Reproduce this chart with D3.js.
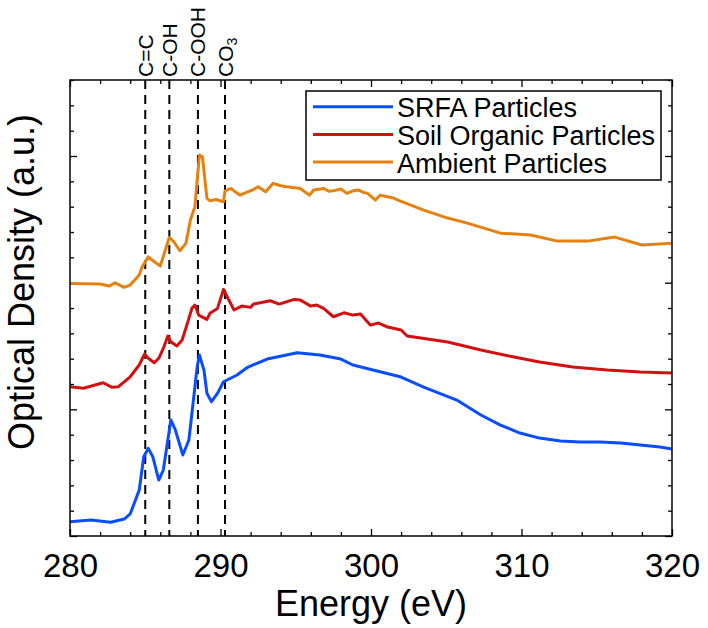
<!DOCTYPE html>
<html>
<head>
<meta charset="utf-8">
<script src="https://cdn.jsdelivr.net/npm/d3@7"></script>
<style>
  body { margin: 0; background: #fff; }
  text { font-family: "Liberation Sans", Arial, sans-serif; fill: #000; }
</style>
</head>
<body>
<script>
// energies (eV) and optical density (a.u., stacked)
const srfaE  = [280.0, 281.4, 282.7, 283.6, 284.0, 284.6, 284.9, 285.2, 285.5, 285.9, 286.2, 286.5, 286.7, 287.0, 287.5, 287.9, 288.2, 288.45, 288.6, 288.9, 289.1, 289.4, 289.8, 290.2, 291.1, 291.8, 293.1, 295.1, 296.6, 298.0, 298.8, 300.6, 302.0, 303.5, 305.7, 307.3, 308.6, 309.9, 311.2, 312.6, 313.9, 315.2, 316.6, 317.9, 319.2, 320.0];
const srfaOD = [0.113, 0.126, 0.108, 0.134, 0.174, 0.363, 0.626, 0.692, 0.626, 0.442, 0.521, 0.758, 0.916, 0.837, 0.639, 0.758, 1.073, 1.336, 1.429, 1.310, 1.126, 1.060, 1.126, 1.218, 1.271, 1.332, 1.397, 1.447, 1.429, 1.397, 1.350, 1.297, 1.255, 1.176, 1.073, 0.955, 0.876, 0.813, 0.773, 0.750, 0.742, 0.742, 0.734, 0.718, 0.702, 0.687];

const soilE  = [280.0, 280.9, 282.2, 282.8, 283.2, 284.0, 284.6, 284.95, 285.2, 285.6, 285.9, 286.2, 286.5, 286.7, 287.1, 287.45, 287.8, 288.1, 288.3, 288.55, 289.1, 289.3, 289.8, 290.2, 290.5, 290.9, 291.4, 292.0, 292.2, 293.3, 293.9, 294.9, 295.3, 296.0, 296.4, 296.85, 297.5, 298.2, 298.8, 299.3, 299.95, 300.5, 301.1, 302.0, 302.4, 305.1, 307.3, 309.5, 311.2, 313.4, 315.7, 317.9, 320.0];
const soilOD = [1.178, 1.166, 1.210, 1.174, 1.178, 1.257, 1.350, 1.436, 1.403, 1.368, 1.403, 1.481, 1.579, 1.534, 1.500, 1.547, 1.679, 1.797, 1.823, 1.744, 1.710, 1.758, 1.797, 1.947, 1.876, 1.784, 1.815, 1.805, 1.831, 1.857, 1.831, 1.868, 1.863, 1.815, 1.823, 1.797, 1.731, 1.762, 1.744, 1.752, 1.665, 1.681, 1.650, 1.626, 1.579, 1.531, 1.468, 1.413, 1.373, 1.334, 1.310, 1.294, 1.287];

const ambE  = [280.0, 282.0, 282.6, 283.0, 283.6, 284.0, 284.6, 284.8, 285.2, 285.6, 286.0, 286.3, 286.6, 286.9, 287.3, 287.7, 288.0, 288.3, 288.45, 288.6, 288.8, 289.1, 289.3, 289.7, 290.2, 290.3, 290.7, 291.0, 291.3, 291.8, 292.2, 292.5, 293.0, 293.5, 294.0, 294.4, 295.3, 295.9, 296.2, 296.85, 297.2, 297.5, 298.0, 298.4, 298.8, 299.2, 299.5, 299.75, 300.3, 300.6, 301.0, 301.5, 301.8, 303.5, 305.1, 306.4, 308.6, 310.6, 312.4, 314.4, 316.2, 318.0, 320.0];
const ambOD = [1.994, 1.989, 1.973, 1.999, 1.963, 1.981, 2.060, 2.126, 2.204, 2.165, 2.131, 2.244, 2.358, 2.323, 2.252, 2.310, 2.494, 2.599, 2.810, 3.007, 2.994, 2.665, 2.646, 2.657, 2.639, 2.725, 2.744, 2.715, 2.691, 2.717, 2.735, 2.757, 2.717, 2.784, 2.765, 2.757, 2.744, 2.691, 2.731, 2.744, 2.722, 2.725, 2.740, 2.705, 2.725, 2.731, 2.712, 2.707, 2.652, 2.691, 2.680, 2.668, 2.652, 2.573, 2.510, 2.470, 2.391, 2.376, 2.328, 2.328, 2.360, 2.297, 2.312];

const seriesNames = ['SRFA Particles', 'Soil Organic Particles', 'Ambient Particles'];
const seriesColors = ['#0a4dff', '#d30f0f', '#e5820f'];

const peakPos = [285.0, 286.6, 288.5, 290.3];
const peakLabels = ['C=C', 'C-OH', 'C-OOH', 'CO'];

const xTickLabels = [280, 290, 300, 310, 320];

const outerW = 708,
    outerH = 628;

const margin = { left: 70, right: 36, top: 80, bottom: 92 };
const w = outerW - margin.left - margin.right,
    h = outerH - margin.top - margin.bottom;

const x = d3.scaleLinear().domain([280, 320]).range([0, w]);
const y = d3.scaleLinear().domain([0, 3.6]).range([h, 0]);

const svg = d3.select('body').append('svg')
    .attr('width', outerW)
    .attr('height', outerH);

const g = svg.append('g')
    .attr('transform', `translate(${margin.left}, ${margin.top})`);

svg.append('defs').append('clipPath').attr('id', 'clip')
    .append('rect').attr('width', w).attr('height', h);

// tick marks, all pointing inwards on the four sides
const xMinor = d3.range(0, 21).map(i => 280 + i * 2).filter(d => d % 10 !== 0);
const yMinor = d3.range(0, 19).map(i => +(i * 0.2).toFixed(1)).filter(d => d % 1 !== 0);
const yMajor = [0, 1, 2, 3];

function ticks(axis, vals, size, tr) {
    const a = g.append('g')
        .attr('transform', tr)
        .call(axis.tickValues(vals).tickSize(size).tickFormat(''));
    a.select('.domain').remove();
    a.selectAll('line').attr('stroke', '#000').attr('stroke-width', 1.3);
}

ticks(d3.axisBottom(x), xMinor, -4, `translate(0, ${h})`);
ticks(d3.axisBottom(x), xTickLabels, -7, `translate(0, ${h})`);
ticks(d3.axisTop(x), xMinor, -4, 'translate(0, 0)');
ticks(d3.axisTop(x), xTickLabels, -7, 'translate(0, 0)');
ticks(d3.axisLeft(y), yMinor, -4, 'translate(0, 0)');
ticks(d3.axisLeft(y), yMajor, -7, 'translate(0, 0)');
ticks(d3.axisRight(y), yMinor, -4, `translate(${w}, 0)`);
ticks(d3.axisRight(y), yMajor, -7, `translate(${w}, 0)`);

// x labels
const xLab = g.append('g')
    .attr('transform', `translate(0, ${h})`)
    .call(d3.axisBottom(x).tickValues(xTickLabels).tickSize(0).tickPadding(18));
xLab.select('.domain').remove();
xLab.selectAll('text')
    .style('font-family', '"Liberation Sans", Arial, sans-serif')
    .style('font-size', '33px')
    .attr('fill', '#000');

// dashed peak lines
g.selectAll('.peak')
    .data(peakPos)
    .enter()
    .append('line')
    .attr('class', 'peak')
    .attr('x1', d => x(d))
    .attr('x2', d => x(d))
    .attr('y1', 0)
    .attr('y2', h)
    .attr('stroke', '#000')
    .attr('stroke-width', 2)
    .attr('stroke-dasharray', '9,6');

const pl = g.selectAll('.peak-label')
    .data(peakPos)
    .enter()
    .append('text')
    .attr('class', 'peak-label')
    .attr('transform', d => `translate(${x(d) + 7.5}, -3) rotate(-90)`)
    .style('font-size', '21px')
    .text((d, i) => peakLabels[i]);
pl.filter((d, i) => i === 3)
    .append('tspan')
    .attr('dy', 4)
    .style('font-size', '14px')
    .text('3');

// spectra
const line = d3.line()
    .x(d => x(d[0]))
    .y(d => y(d[1]));

const series = [
    d3.zip(srfaE, srfaOD),
    d3.zip(soilE, soilOD),
    d3.zip(ambE, ambOD)
];

g.append('g').attr('clip-path', 'url(#clip)')
    .selectAll('.spec')
    .data(series)
    .enter()
    .append('path')
    .attr('class', 'spec')
    .attr('d', line)
    .attr('fill', 'none')
    .attr('stroke', (d, i) => seriesColors[i])
    .attr('stroke-width', 3)
    .attr('stroke-linejoin', 'round');

// frame
g.append('rect')
    .attr('width', w)
    .attr('height', h)
    .attr('fill', 'none')
    .attr('stroke', '#000')
    .attr('stroke-width', 1.5);

// legend
const leg = svg.append('g').attr('transform', 'translate(306, 91)');
leg.append('rect')
    .attr('width', 355)
    .attr('height', 89)
    .attr('fill', '#fff')
    .attr('stroke', '#000')
    .attr('stroke-width', 1.5);

const items = leg.selectAll('.item')
    .data(seriesNames)
    .enter()
    .append('g')
    .attr('class', 'item')
    .attr('transform', (d, i) => `translate(0, ${15.7 + i * 27.7})`);

items.append('line')
    .attr('x1', 7)
    .attr('x2', 87)
    .attr('stroke', (d, i) => seriesColors[i])
    .attr('stroke-width', 3);

items.append('text')
    .attr('x', 91)
    .attr('y', 10.5)
    .style('font-size', '27px')
    .text(d => d);

// axis titles
svg.append('text')
    .attr('x', margin.left + w / 2)
    .attr('y', 616)
    .attr('text-anchor', 'middle')
    .style('font-size', '36px')
    .text('Energy (eV)');

svg.append('text')
    .attr('transform', 'translate(34, 282) rotate(-90)')
    .attr('text-anchor', 'middle')
    .style('font-size', '36px')
    .text('Optical Density (a.u.)');
</script>
</body>
</html>
